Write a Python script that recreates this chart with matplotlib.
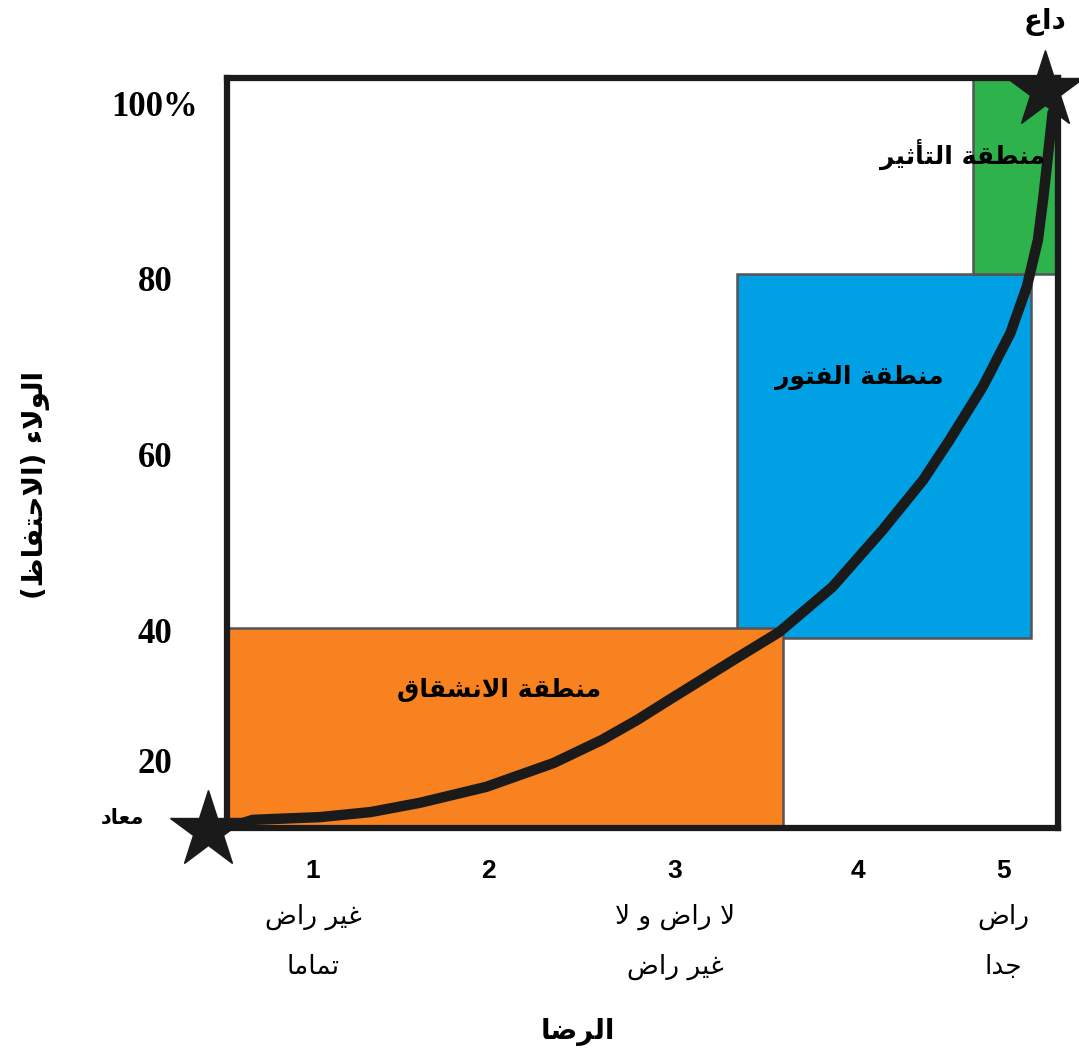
import numpy as np
import matplotlib
matplotlib.use("Agg")
import matplotlib.pyplot as plt
from matplotlib.patches import Rectangle

# Arabic letters -> (isolated presentation form, joining type)
# D = joins both sides, R = joins only to the previous letter, U = never joins
LETTERS = {
    '\u0621': (0xFE80, 'U'), '\u0623': (0xFE83, 'R'), '\u0627': (0xFE8D, 'R'),
    '\u0629': (0xFE93, 'R'), '\u062A': (0xFE95, 'D'), '\u062B': (0xFE99, 'D'),
    '\u062C': (0xFE9D, 'D'), '\u062D': (0xFEA1, 'D'), '\u062F': (0xFEA9, 'R'),
    '\u0631': (0xFEAD, 'R'), '\u0634': (0xFEB5, 'D'), '\u0636': (0xFEBD, 'D'),
    '\u0637': (0xFEC1, 'D'), '\u0638': (0xFEC5, 'D'), '\u0639': (0xFEC9, 'D'),
    '\u063A': (0xFECD, 'D'), '\u0641': (0xFED1, 'D'), '\u0642': (0xFED5, 'D'),
    '\u0644': (0xFEDD, 'D'), '\u0645': (0xFEE1, 'D'), '\u0646': (0xFEE5, 'D'),
    '\u0648': (0xFEED, 'R'), '\u064A': (0xFEF1, 'D'),
    '\uFEFB': (0xFEFB, 'R'), '\uFEF7': (0xFEF7, 'R'),  # lam-alef ligatures
}


def ar(text):
    """Shape Arabic text into presentation forms and lay it out right to left."""
    lines = []
    for s in text.split('\n'):
        s = s.replace('\u0644\u0627', '\uFEFB').replace('\u0644\u0623', '\uFEF7')
        out = []
        for i, ch in enumerate(s):
            if ch not in LETTERS:
                out.append(ch)
                continue
            base, kind = LETTERS[ch]
            prev = s[i - 1] if i > 0 else ''
            nxt = s[i + 1] if i + 1 < len(s) else ''
            join_prev = kind != 'U' and prev in LETTERS and LETTERS[prev][1] == 'D'
            join_next = kind == 'D' and nxt in LETTERS and LETTERS[nxt][1] != 'U'
            off = 3 if (join_prev and join_next) else 2 if join_next else 1 if join_prev else 0
            out.append(chr(base + off))
        mirror = {'(': ')', ')': '('}
        lines.append(''.join(mirror.get(c, c) for c in reversed(out)))
    return '\n'.join(lines)


# loyalty / satisfaction curve
satisfaction = [0.5, 0.65, 1.04, 1.33, 1.61, 1.99, 2.35, 2.61, 2.80, 2.96, 3.32, 3.57,
                3.86, 4.17, 4.45, 4.63, 4.86, 5.04, 5.13, 5.19, 5.22, 5.25, 5.27]
loyalty = [0.0, 2.4, 3.2, 4.7, 7.4, 12.1, 19.1, 23.1, 26.2, 29.1, 35.4, 39.7,
           44.9, 51.4, 57.1, 61.6, 67.7, 73.8, 79.1, 84.4, 89.3, 95.0, 98.9]

# zones: (x0, x1, y0, y1)
zone_defection = (0.5, 3.59, 0.0, 40.2)
zone_indifference = (3.34, 5.15, 38.8, 80.5)
zone_affection = (4.79, 5.3, 80.5, 102.85)

y_ticks = [20, 40, 60, 80, 100]
y_ticklabels = ['20', '40', '60', '80', '100%']
x_ticks = [1, 2, 3, 4, 5]
x_names = {1: 'غير راض\nتماما', 3: 'لا راض و لا\nغير راض', 5: 'راض\nجدا'}

# the axes are drawn schematically, not to a linear scale
X_KNOTS = [-5, 0.5, 1, 2, 3, 4, 5, 5.3, 10]
X_POS = [-946, 0, 86, 261, 448, 631, 776, 831, 1691]
Y_KNOTS = [-50, 0, 20, 40, 100, 200]
Y_POS = [-170, 0, 68, 198, 725, 1603]

ORANGE = '#F7821F'
BLUE = '#00A0E4'
GREEN = '#2EB24C'
INK = '#1a1a1a'

fig = plt.figure(figsize=(10.79, 10.61), dpi=100)
ax = fig.add_axes([0.2104, 0.2196, 0.7702, 0.7069])
ax.set_xscale('function', functions=(lambda v: np.interp(v, X_KNOTS, X_POS),
                                     lambda p: np.interp(p, X_POS, X_KNOTS)))
ax.set_yscale('function', functions=(lambda v: np.interp(v, Y_KNOTS, Y_POS),
                                     lambda p: np.interp(p, Y_POS, Y_KNOTS)))
ax.set_xlim(0.5, 5.3)
ax.set_ylim(0, 102.85)

for (x0, x1, y0, y1), color, z in [(zone_indifference, BLUE, 1),
                                    (zone_defection, ORANGE, 2),
                                    (zone_affection, GREEN, 2)]:
    ax.add_patch(Rectangle((x0, y0), x1 - x0, y1 - y0, facecolor=color,
                           edgecolor='#555555', linewidth=1.8, zorder=z))

ax.plot(satisfaction, loyalty, color=INK, lw=7.5, solid_capstyle='round',
        solid_joinstyle='round', zorder=4)
ax.plot([0.39, 5.23], [-0.6, 101.5], ls='none', marker='*', markersize=58,
        color=INK, clip_on=False, zorder=6)

bold_ar = dict(family=['DejaVu Sans'], fontweight='bold', color='black')
ax.text(4.72, 94.1, ar('منطقة التأثير'), fontsize=18, ha='center', va='center', zorder=5, **bold_ar)
ax.text(4.01, 68.7, ar('منطقة الفتور'), fontsize=18, ha='center', va='center', zorder=5, **bold_ar)
ax.text(2.06, 30.8, ar('منطقة الانشقاق'), fontsize=18, ha='center', va='center', zorder=5, **bold_ar)
ax.text(5.23, 109.2, ar('داع'), fontsize=20, ha='center', va='center', clip_on=False, **bold_ar)
ax.text(-0.11, 2.9, ar('معاد'), fontsize=15, ha='center', va='center', clip_on=False, **bold_ar)

for s in ax.spines.values():
    s.set_linewidth(4.5)
    s.set_color(INK)
    s.set_zorder(3)

ax.set_yticks(y_ticks, y_ticklabels)
ax.tick_params(axis='y', length=0, pad=52)
for lab in ax.get_yticklabels():
    lab.set_fontfamily('Liberation Serif')
    lab.set_fontweight('bold')
    lab.set_fontsize(25)
    lab.set_horizontalalignment('center')

ax.set_xticks(x_ticks, [str(t) for t in x_ticks])
ax.tick_params(axis='x', length=0, pad=22)
for lab in ax.get_xticklabels():
    lab.set_fontfamily('Liberation Sans')
    lab.set_fontweight('bold')
    lab.set_fontsize(19)

tr = ax.get_xaxis_transform()
for x, name in x_names.items():
    ax.text(x, -0.152, ar(name), transform=tr, ha='center', va='center',
            fontsize=19, family=['DejaVu Sans'], linespacing=2.2)

ax.text(2.48, -0.272, ar('الرضا'), transform=tr, ha='center', va='center',
        fontsize=20, **bold_ar)
fig.text(0.033, 0.543, ar('الولاء (الاحتفاظ)'), rotation=90, ha='center', va='center',
         fontsize=20, **bold_ar)

fig.savefig('out.png', dpi=100)
